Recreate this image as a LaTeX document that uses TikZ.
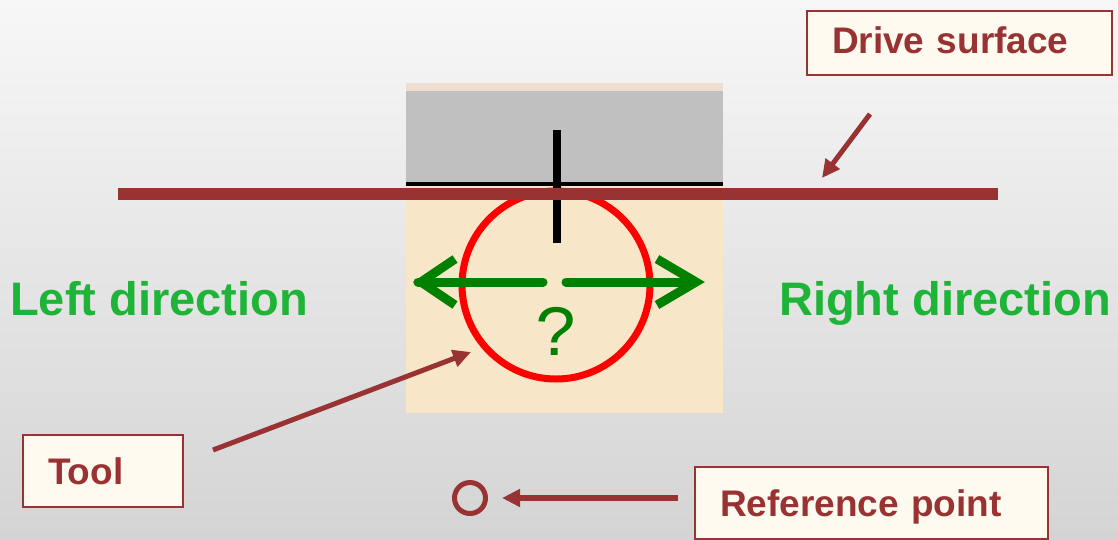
\documentclass[tikz,border=0pt]{standalone}
\usepackage{fontspec}
\setmainfont{Liberation Sans}
\newfontfamily\qfont{Liberation Mono}
\usetikzlibrary{arrows.meta}
\definecolor{dred}{RGB}{153,51,51}
\definecolor{boxfill}{RGB}{255,250,240}
\definecolor{lgreen}{RGB}{30,180,55}
\definecolor{dgreen}{RGB}{0,128,0}
\definecolor{panelgray}{RGB}{192,192,192}
\definecolor{panelbeige}{RGB}{248,230,200}
\definecolor{panelstrip}{RGB}{238,222,210}
\definecolor{bgtop}{RGB}{247,247,247}
\definecolor{bgbot}{RGB}{212,212,212}
\tikzset{
  lbl/.style={draw=dred, line width=2pt, fill=boxfill, text=dred,
    font=\bfseries\fontsize{37}{44}\selectfont, align=left,
    inner xsep=25pt, inner ysep=0pt, anchor=north west},
  dirlbl/.style={text=lgreen, font=\bfseries\fontsize{47}{56}\selectfont,
    inner sep=0pt, anchor=base west},
  pointer/.style={draw=dred, line width=5pt, -{Triangle[length=18pt,width=17pt]}},
  garrow/.style={draw=dgreen, line width=9pt},
}
\begin{document}
\begin{tikzpicture}[x=1pt,y=-1pt]
\useasboundingbox (0,0) rectangle (1118,539);
\shade[top color=bgtop, bottom color=bgbot] (0,0) rectangle (1118,539);
% panel
\fill[panelstrip] (406,83) rectangle (723,91);
\fill[panelgray] (406,91) rectangle (723,184);
\fill[panelbeige] (406,184) rectangle (723,413);
\draw[black, line width=4pt] (406,184) -- (723,184);
% tool circle
\node[circle, draw=red, line width=7pt, minimum size=188pt, inner sep=0pt] (tool) at (556,285) {};
% tick
\draw[black, line width=8pt] (557,130) -- (557,243);
% drive surface line
\coordinate (surfL) at (118,194);
\coordinate (surfR) at (998,194);
\draw[dred, line width=12pt] (surfL) -- (surfR);
% green arrows
\draw[garrow, line cap=round] (543,282) -- (418,282);
\draw[garrow, miter limit=10] (455,259) -- (421,282) -- (455,305);
\draw[garrow, line cap=round] (566,282) -- (693,282);
\draw[garrow, miter limit=10] (657,259) -- (696,282) -- (657,305);
\node[text=dgreen, font=\qfont\fontsize{72}{80}\selectfont, inner sep=0pt, anchor=base] (qm) at (557,355) {?};
% direction labels
\node[dirlbl] (left) at (10,315) {Left direction};
\node[dirlbl] (right) at (779,315) {Right direction};
% label boxes
\node[lbl, text width=255pt, text height=42pt, text depth=22pt] (drive) at (806,10) {Drive surface};
\node[lbl, text width=110pt, text height=49pt, text depth=23pt] (toollbl) at (22,434) {Tool};
\node[lbl, text width=303pt, text height=49pt, text depth=23pt] (reflbl) at (694,466) {Reference point};
% reference point
\node[circle, draw=dred, line width=5pt, minimum size=31pt, inner sep=0pt] (refpt) at (470,498) {};
% pointers
\coordinate (driveA) at (870,114);
\coordinate (driveB) at (822,178);
\draw[pointer] (driveA) -- (driveB);
\coordinate (toolA) at (213,450);
\coordinate (toolB) at (471,352);
\draw[pointer] (toolA) -- (toolB);
\coordinate (refA) at (678,498);
\coordinate (refB) at (502,498);
\draw[pointer, line width=6pt] (refA) -- (refB);
\end{tikzpicture}
\end{document}
